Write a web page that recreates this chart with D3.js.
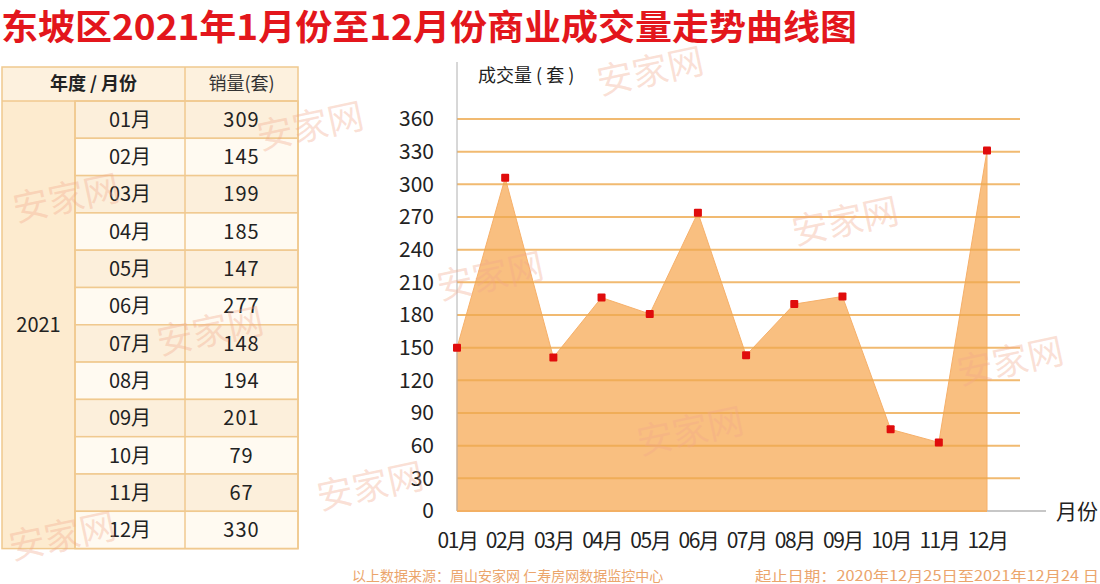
<!DOCTYPE html>
<html><head><meta charset="utf-8">
<script src="https://cdn.jsdelivr.net/npm/d3@7"></script>
<style>body{margin:0;background:#fff;overflow:hidden}</style></head>
<body><svg id="c" width="1100" height="584"></svg>
<script>
// ---- data ----
const title = "东坡区2021年1月份至12月份商业成交量走势曲线图";
const months = ["01月","02月","03月","04月","05月","06月","07月","08月","09月","10月","11月","12月"];
const chartValues = [150,306,141,196,181,274,143,190,197,75,63,331];
const tableSales = [309,145,199,185,147,277,148,194,201,79,67,330];
const yearLabel = "2021";
const yTicks = [0,30,60,90,120,150,180,210,240,270,300,330,360];
const tableHeaders = ["年度 / 月份","销量(套)"];
const yAxisTitle = "成交量 ( 套 )";
const xAxisTitle = "月份";
const footer1 = "以上数据来源：眉山安家网 仁寿房网数据监控中心";
const footer2 = "起止日期：2020年12月25日至2021年12月24 日";
const watermark = "安家网";

const svg = d3.select("#c");
const FONT = "'Noto Sans CJK SC','Noto Sans',sans-serif";

// ---- title ----
svg.append("text").attr("x",1).attr("y",40)
  .attr("font-family",FONT).attr("font-weight",700).attr("font-size",35)
  .attr("fill","#e3161c").attr("textLength",856).attr("lengthAdjust","spacingAndGlyphs")
  .text(title);

// ---- table ----
const tX = [2, 75, 185, 298];
const hTop = 67, hBot = 101, rowH = 37.3;
const rowY = d3.scaleLinear().domain([0, months.length]).range([hBot, hBot + rowH*months.length]);
const tbl = svg.append("g");
const border = "#f0c98f";
tbl.append("rect").attr("x",tX[0]).attr("y",hTop).attr("width",tX[3]-tX[0]).attr("height",hBot-hTop).attr("fill","#fdf1de");
tbl.append("rect").attr("x",tX[0]).attr("y",hBot).attr("width",tX[1]-tX[0]).attr("height",rowY(12)-hBot).attr("fill","#fdebcf");
months.forEach((m,i)=>{
  const fill = i%2===0 ? "#fcefdb" : "#fffaf1";
  tbl.append("rect").attr("x",tX[1]).attr("y",rowY(i)).attr("width",tX[3]-tX[1]).attr("height",rowH).attr("fill",fill)
    .attr("stroke",border).attr("stroke-width",1.5);
  tbl.append("line").attr("x1",tX[2]).attr("x2",tX[2]).attr("y1",rowY(i)).attr("y2",rowY(i+1)).attr("stroke",border).attr("stroke-width",1.5);
  tbl.append("text").attr("x",(tX[1]+tX[2])/2).attr("y",rowY(i)+rowH/2).attr("dy","0.36em")
    .attr("text-anchor","middle").attr("font-family",FONT).attr("font-size",20).attr("fill","#222").text(m);
  tbl.append("text").attr("x",(tX[2]+tX[3])/2).attr("y",rowY(i)+rowH/2).attr("dy","0.36em")
    .attr("text-anchor","middle").attr("font-family",FONT).attr("font-size",20).attr("fill","#222").attr("letter-spacing",1).text(tableSales[i]);
});
tbl.append("rect").attr("x",tX[0]).attr("y",hTop).attr("width",tX[3]-tX[0]).attr("height",rowY(12)-hTop)
  .attr("fill","none").attr("stroke",border).attr("stroke-width",1.5);
tbl.append("line").attr("x1",tX[0]).attr("x2",tX[3]).attr("y1",hBot).attr("y2",hBot).attr("stroke",border).attr("stroke-width",1.5);
tbl.append("line").attr("x1",tX[2]).attr("x2",tX[2]).attr("y1",hTop).attr("y2",hBot).attr("stroke",border).attr("stroke-width",1.5);
tbl.append("line").attr("x1",tX[1]).attr("x2",tX[1]).attr("y1",hBot).attr("y2",rowY(12)).attr("stroke",border).attr("stroke-width",1.5);
tbl.append("text").attr("x",(tX[0]+tX[2])/2).attr("y",(hTop+hBot)/2).attr("dy","0.36em").attr("text-anchor","middle")
  .attr("font-family",FONT).attr("font-weight",700).attr("font-size",18).attr("fill","#222").text(tableHeaders[0]);
tbl.append("text").attr("x",(tX[2]+tX[3])/2).attr("y",(hTop+hBot)/2).attr("dy","0.36em").attr("text-anchor","middle")
  .attr("font-family",FONT).attr("font-size",18).attr("fill","#333").text(tableHeaders[1]);
tbl.append("text").attr("x",(tX[0]+tX[1])/2).attr("y",(rowY(0)+rowY(12))/2).attr("dy","0.36em").attr("text-anchor","middle")
  .attr("font-family",FONT).attr("font-size",20).attr("fill","#222").text(yearLabel);

// ---- chart ----
const x = d3.scalePoint().domain(months).range([457, 987]);
const y = d3.scaleLinear().domain([0,360]).range([511,119]);
const pts = months.map((m,i)=>({m, v:chartValues[i]}));

const area = d3.area().x(d=>x(d.m)).y0(y(0)).y1(d=>y(d.v));
svg.append("path").datum(pts).attr("d",area).attr("fill","#f9bf80").attr("stroke","#f6b06a").attr("stroke-width",1);

// gridlines
svg.append("g").selectAll("line").data(yTicks.filter(t=>t>0)).join("line")
  .attr("x1",457).attr("x2",1020).attr("y1",d=>y(d)).attr("y2",d=>y(d))
  .attr("stroke","#eea94e").attr("stroke-opacity",0.8).attr("stroke-width",2);

// axes lines
svg.append("line").attr("x1",457).attr("x2",457).attr("y1",62).attr("y2",511).attr("stroke","#b0b0b0").attr("stroke-width",1);
svg.append("line").attr("x1",457).attr("x2",1046).attr("y1",511).attr("y2",511).attr("stroke","#b5b5b5").attr("stroke-width",1.5);
svg.append("line").attr("x1",457).attr("x2",987).attr("y1",511).attr("y2",511).attr("stroke","#f3b064").attr("stroke-width",2);

// y axis labels
const yAxis = svg.append("g").attr("transform","translate(434,0)")
  .call(d3.axisLeft(y).tickValues(yTicks).tickSize(0).tickPadding(0));
yAxis.select(".domain").remove();
yAxis.selectAll("text").attr("font-family",FONT).attr("font-size",21).attr("fill","#222");

// x axis labels
const xAxis = svg.append("g").attr("transform","translate(0,511)")
  .call(d3.axisBottom(x).tickSize(0).tickPadding(22));
xAxis.select(".domain").remove();
xAxis.selectAll("text").attr("font-family",FONT).attr("font-size",21).attr("fill","#222").attr("letter-spacing",-1.5);

// markers
svg.append("g").selectAll("rect").data(pts).join("rect")
  .attr("x",d=>x(d.m)-4).attr("y",d=>y(d.v)-4).attr("width",8).attr("height",8).attr("rx",1)
  .attr("fill","#e00c0c");

// axis titles
svg.append("text").attr("x",478).attr("y",82).attr("font-family",FONT).attr("font-size",18).attr("fill","#222").text(yAxisTitle);
svg.append("text").attr("x",1056).attr("y",511).attr("dy","0.36em").attr("font-family",FONT).attr("font-size",21).attr("fill","#222").text(xAxisTitle);

// footer
svg.append("text").attr("x",352).attr("y",581).attr("font-family",FONT).attr("font-size",14).attr("fill","#eba56c").text(footer1);
svg.append("text").attr("x",755).attr("y",581).attr("font-family",FONT).attr("font-size",14).attr("fill","#eba56c")
  .attr("textLength",344).attr("lengthAdjust","spacingAndGlyphs").text(footer2);

// watermarks
const wmPos = [[600,95],[795,245],[440,300],[160,355],[960,385],[640,455],[320,510],[12,560],[260,150],[16,222]];
svg.append("g").selectAll("text").data(wmPos).join("text")
  .attr("transform",d=>`translate(${d[0]},${d[1]}) rotate(-12)`)
  .attr("font-family",FONT).attr("font-size",36).attr("fill","#f2a78a").attr("fill-opacity",0.35)
  .text(watermark);
</script></body></html>
